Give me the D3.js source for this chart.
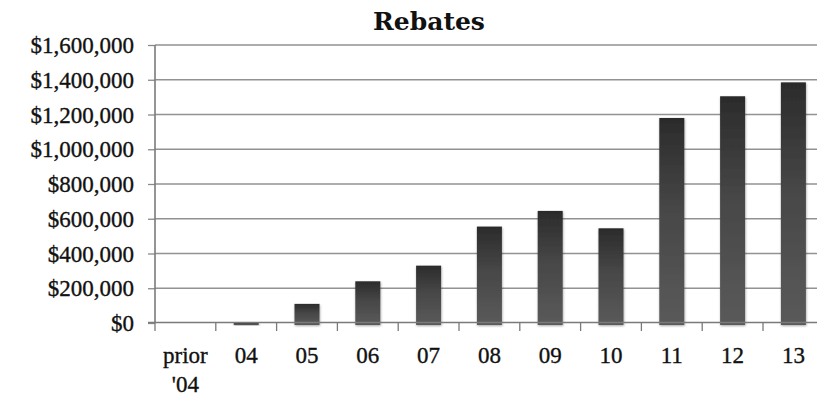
<!DOCTYPE html>
<html>
<head>
<meta charset="utf-8">
<script src="https://cdn.jsdelivr.net/npm/d3@7"></script>
<style>
  body { margin: 0; background: #fff; }
  svg { display: block; }
</style>
</head>
<body>
<div id="chart"></div>
<script>
// chart data
var categories = ["prior '04", "04", "05", "06", "07", "08", "09", "10", "11", "12", "13"];
var rebates = [0, 2000, 110000, 240000, 330000, 555000, 645000, 545000, 1180000, 1305000, 1385000];
var yTicks = [0, 200000, 400000, 600000, 800000, 1000000, 1200000, 1400000, 1600000];

(function() {
    var width = 817, height = 396;
    var margin = {left: 155, top: 45, bottom: 73};
    var plotRight = 155 + 11 * 60.8;   // plot runs a little past the picture edge
    var labelFont = "'Liberation Serif', 'Times New Roman', Times, serif";

    var svg = d3.select('#chart').append('svg')
        .attr('width', width)
        .attr('height', height);

    var defs = svg.append('defs');
    var grad = defs.append('linearGradient')
        .attr('id', 'barGrad')
        .attr('x1', 0).attr('y1', 0).attr('x2', 0).attr('y2', 1);
    grad.append('stop').attr('offset', '0%').attr('stop-color', '#2b2b2b');
    grad.append('stop').attr('offset', '45%').attr('stop-color', '#474747');
    grad.append('stop').attr('offset', '100%').attr('stop-color', '#5a5a5a');

    var shadow = defs.append('filter').attr('id', 'shadow')
        .attr('x', '-30%').attr('y', '-10%').attr('width', '160%').attr('height', '120%');
    shadow.append('feDropShadow')
        .attr('dx', 0.5).attr('dy', 1)
        .attr('stdDeviation', 1.3)
        .attr('flood-color', '#000')
        .attr('flood-opacity', 0.35);

    var x = d3.scaleBand()
        .domain(categories)
        .range([margin.left, plotRight])
        .padding(0);

    var y = d3.scaleLinear()
        .domain([0, 1600000])
        .range([height - margin.bottom, margin.top]);

    function styleLabel(sel) {
        sel.style('font-family', labelFont)
            .style('font-size', '23px')
            .style('fill', '#111')
            .style('stroke', '#111')
            .style('stroke-width', '0.35px');
    }

    // y axis with grid lines
    var yAxis = d3.axisLeft(y)
        .tickValues(yTicks)
        .tickSize(7)
        .tickPadding(14)
        .tickFormat(function(d) { return '$' + d3.format(',')(d); });

    var gy = svg.append('g')
        .attr('transform', 'translate(' + margin.left + ',0)')
        .call(yAxis);
    gy.attr('font-family', null).attr('font-size', null);
    gy.select('.domain').remove();
    gy.selectAll('.tick line').attr('stroke', '#8a8a8a').attr('stroke-width', 1.3);
    gy.selectAll('.tick text')
        .attr('dy', '0.33em')
        .call(styleLabel);

    svg.append('g')
        .selectAll('line')
        .data(yTicks.filter(function(d) { return d > 0; }))
        .join('line')
        .attr('x1', margin.left)
        .attr('x2', plotRight)
        .attr('y1', function(d) { return y(d); })
        .attr('y2', function(d) { return y(d); })
        .attr('stroke', '#929292')
        .attr('stroke-width', 1.3);

    // y axis line
    svg.append('line')
        .attr('x1', margin.left).attr('x2', margin.left)
        .attr('y1', y(1600000)).attr('y2', y(0))
        .attr('stroke', '#7a7a7a')
        .attr('stroke-width', 1.6);

    // bars (a small foot reaches just under the axis, as in the original)
    var barW = 25, foot = 2;
    svg.append('g')
        .selectAll('rect')
        .data(rebates)
        .join('rect')
        .attr('x', function(d, i) { return x(categories[i]) + (x.bandwidth() - barW) / 2; })
        .attr('y', function(d) { return y(d); })
        .attr('width', barW)
        .attr('height', function(d) { return y(0) - y(d) + foot; })
        .attr('fill', 'url(#barGrad)')
        .attr('filter', 'url(#shadow)')
        .style('display', function(d) { return d > 0 ? null : 'none'; });

    // x axis: ticks at band edges
    var edges = categories.map(function(c) { return x(c); });
    edges.push(plotRight);
    svg.append('g')
        .selectAll('line')
        .data(edges)
        .join('line')
        .attr('x1', function(d) { return d; })
        .attr('x2', function(d) { return d; })
        .attr('y1', y(0))
        .attr('y2', y(0) + 8)
        .attr('stroke', '#7a7a7a')
        .attr('stroke-width', 1.3);

    svg.append('line')
        .attr('x1', margin.left - 7).attr('x2', plotRight)
        .attr('y1', y(0) - 0.5).attr('y2', y(0) - 0.5)
        .attr('stroke', '#7a7a7a')
        .attr('stroke-width', 1.6);

    // x labels (prior '04 wraps on two lines)
    var labels = svg.append('g')
        .selectAll('text')
        .data(categories)
        .join('text')
        .attr('text-anchor', 'middle')
        .attr('x', function(d) { return x(d) + x.bandwidth() / 2; })
        .attr('y', 363)
        .call(styleLabel);
    labels.each(function(d) {
        var parts = d.split(' ');
        var t = d3.select(this);
        parts.forEach(function(p, k) {
            t.append('tspan')
                .attr('x', x(d) + x.bandwidth() / 2)
                .attr('dy', k === 0 ? 0 : 29)
                .text(p);
        });
    });

    // title
    svg.append('text')
        .attr('x', 429)
        .attr('y', 30)
        .attr('text-anchor', 'middle')
        .style('font-family', "'DejaVu Serif', serif")
        .style('font-weight', 'bold')
        .style('font-size', '25px')
        .style('fill', '#111')
        .text('Rebates');
})();
</script>
</body>
</html>
